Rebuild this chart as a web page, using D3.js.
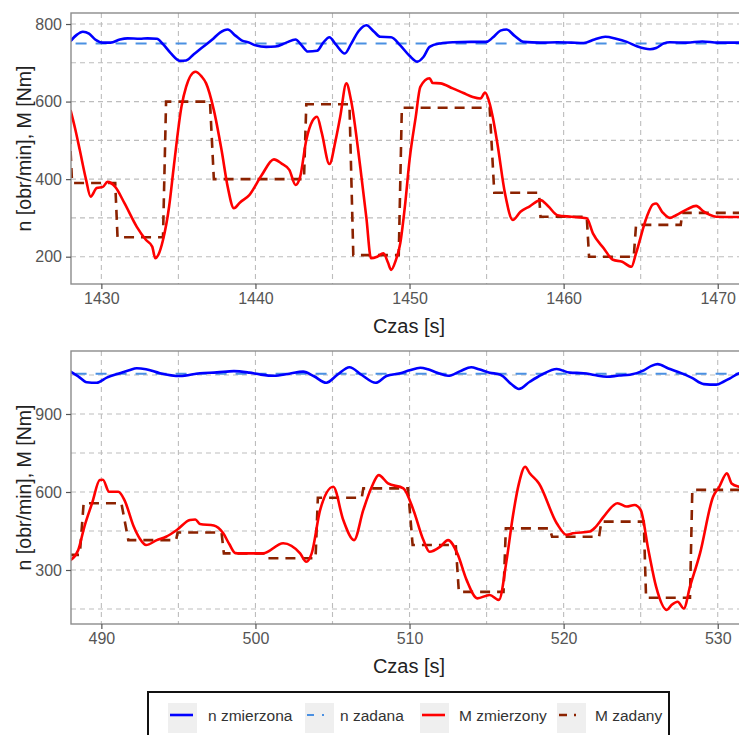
<!DOCTYPE html>
<html><head><meta charset="utf-8">
<script src="https://cdn.jsdelivr.net/npm/d3@7"></script>
<style>body{margin:0;background:#fff;} text{font-family:"Liberation Sans",Arial,sans-serif;}</style>
</head><body><svg id="c" width="739" height="735"></svg>
<script>
// ---------- DATA ----------
const seriesNames = ["n zmierzona", "n zadana", "M zmierzony", "M zadany"];
const xTitle = "Czas [s]";
const yTitle = "n [obr/min], M [Nm]";

const topXTicks = [1430, 1440, 1450, 1460, 1470];
const topYTicks = [200, 400, 600, 800];
const topNSet = 750;
const topNMeasured = [[1428.0,756],[1428.4,772],[1428.8,780],[1429.2,775],[1429.6,760],[1430.1,752],[1430.6,752],[1431.2,760],[1431.7,763],[1432.5,762],[1433.0,763],[1433.6,762],[1434.0,748],[1434.5,725],[1435.1,705],[1435.5,706],[1436.0,722],[1436.5,738],[1437.2,760],[1437.7,778],[1438.2,786],[1438.7,770],[1439.1,758],[1439.6,752],[1440.0,745],[1440.7,741],[1441.3,742],[1442.0,752],[1442.6,760],[1443.0,745],[1443.4,729],[1444.0,731],[1444.4,752],[1444.8,766],[1445.2,748],[1445.8,724],[1446.2,748],[1446.7,782],[1447.2,797],[1447.7,780],[1448.1,767],[1448.8,766],[1449.4,745],[1450.0,718],[1450.5,703],[1450.9,715],[1451.3,741],[1452.0,750],[1452.8,753],[1454.0,754],[1455.0,754],[1455.4,765],[1455.9,783],[1456.3,786],[1456.8,770],[1457.4,754],[1458.5,752],[1459.6,753],[1460.5,752],[1461.3,751],[1462.0,760],[1462.7,767],[1463.4,762],[1464.1,754],[1464.8,742],[1465.6,735],[1466.0,738],[1466.5,750],[1466.9,753],[1468.0,752],[1469.0,755],[1470.0,752],[1472.0,752]];
const topMMeasured = [[1428.0,578],[1428.3,530],[1428.6,475],[1429.0,400],[1429.3,355],[1429.7,377],[1430.1,380],[1430.4,393],[1430.9,380],[1431.5,338],[1432.3,277],[1432.9,243],[1433.3,226],[1433.5,196],[1433.7,205],[1434.0,243],[1434.4,330],[1434.7,432],[1435.2,587],[1435.5,638],[1436.1,677],[1436.5,665],[1436.8,647],[1437.3,578],[1437.8,475],[1438.2,380],[1438.6,325],[1439.0,340],[1439.6,359],[1440.4,410],[1441.2,451],[1441.7,440],[1442.2,424],[1442.6,385],[1442.9,406],[1443.3,501],[1443.7,550],[1444.0,561],[1444.3,520],[1444.8,439],[1445.2,500],[1445.5,561],[1445.9,647],[1446.2,604],[1446.8,432],[1447.2,300],[1447.5,196],[1447.9,200],[1448.3,209],[1448.6,185],[1448.8,166],[1449.1,190],[1449.4,235],[1449.7,330],[1450.0,449],[1450.4,560],[1450.7,638],[1451.3,660],[1451.5,648],[1452.0,647],[1452.8,634],[1453.5,622],[1454.1,612],[1454.6,608],[1454.9,623],[1455.2,595],[1455.4,560],[1455.7,492],[1456.2,362],[1456.7,295],[1457.2,316],[1457.8,330],[1458.5,346],[1459.0,330],[1459.6,307],[1460.5,303],[1461.5,299],[1461.9,260],[1462.6,222],[1463.2,192],[1463.8,187],[1464.4,174],[1464.7,209],[1465.4,303],[1465.8,335],[1466.0,337],[1466.4,315],[1466.9,300],[1467.3,307],[1468.0,322],[1468.6,331],[1469.1,316],[1469.9,303],[1472.0,302]];
const topMSet = [[1427.9,560],[1428.1,390],[1430.9,390],[1431.05,250],[1434.0,250],[1434.2,600],[1437.05,600],[1437.3,400],[1443.15,400],[1443.3,593],[1446.1,593],[1446.35,204],[1449.3,204],[1449.5,584],[1455.2,584],[1455.5,365],[1458.4,365],[1458.5,303],[1461.5,303],[1461.65,200],[1464.55,200],[1464.7,282],[1467.6,282],[1467.7,313],[1472.5,313]];

const botXTicks = [490, 500, 510, 520, 530];
const botYTicks = [300, 600, 900];
const botNSet = 1055;
const botNMeasured = [[488.0,1063],[488.5,1045],[489.05,1022],[489.7,1020],[490.35,1040],[491.2,1057],[491.8,1068],[492.3,1076],[492.9,1072],[493.8,1057],[495.1,1046],[496.4,1057],[497.5,1060],[498.6,1065],[499.6,1059],[500.3,1052],[501.2,1047],[502.2,1055],[503.1,1063],[503.8,1045],[504.6,1020],[505.3,1050],[506.1,1080],[506.9,1050],[507.8,1020],[508.5,1046],[509.4,1057],[510.0,1068],[510.7,1078],[511.2,1072],[511.8,1059],[512.5,1047],[513.3,1065],[514.0,1080],[514.5,1072],[515.2,1059],[515.9,1051],[516.1,1043],[516.6,1015],[517.1,996],[517.8,1024],[518.6,1052],[519.55,1073],[520.4,1059],[521.3,1057],[522.0,1050],[522.8,1043],[523.6,1048],[524.3,1051],[525.2,1068],[525.7,1085],[526.1,1092],[526.8,1075],[527.55,1059],[528.3,1040],[529.1,1015],[529.9,1013],[530.4,1025],[530.8,1037],[531.4,1057],[532.0,1062]];
const botMMeasured = [[488.0,338],[488.5,377],[488.9,467],[489.4,557],[489.9,646],[490.1,647],[490.5,601],[491.1,601],[491.5,569],[492.1,467],[492.5,420],[492.9,396],[493.6,415],[494.2,428],[494.9,454],[495.75,492],[496.1,494],[496.4,477],[497.3,471],[497.9,442],[498.3,400],[498.7,365],[499.0,364],[500.5,364],[501.8,403],[502.9,364],[503.3,332],[503.65,364],[504.2,531],[505.05,620],[505.7,492],[506.4,415],[507.0,531],[507.55,620],[508.0,665],[508.6,633],[509.6,614],[510.25,531],[510.9,415],[511.3,370],[512.0,390],[512.5,415],[513.1,364],[513.7,262],[514.4,191],[515.2,204],[515.8,185],[516.3,338],[516.7,505],[517.1,633],[517.5,697],[517.8,672],[518.4,633],[519.55,480],[520.2,435],[520.6,441],[521.7,448],[522.1,467],[522.6,505],[523.5,557],[524.1,544],[524.6,550],[525.0,531],[525.5,377],[526.0,236],[526.7,146],[527.0,165],[527.4,178],[527.8,152],[528.2,236],[528.85,364],[529.7,582],[530.1,620],[530.6,672],[530.9,633],[531.4,620],[532.0,615]];
const botMSet = [[487.9,358],[488.6,358],[488.85,557],[491.3,557],[491.75,415],[494.85,415],[494.95,444],[497.8,444],[497.95,364],[500.6,364],[500.75,345],[503.9,345],[504.05,578],[506.9,578],[507.0,614],[509.9,614],[510.2,396],[513.0,396],[513.2,216],[516.1,216],[516.25,460],[519.1,460],[519.25,428],[522.3,428],[522.45,486],[525.2,486],[525.35,193],[528.2,193],[528.35,608],[532.5,608]];

// ---------- LAYOUT / STYLE ----------
const svg = d3.select("#c");
const L = 71, R = 747;
const colN = "#0000ff", colNSet = "#4a90e2", colM = "#ff0000", colMSet = "#8b2200";

const panels = [
  {top:13, bottom:284, xd:[1428.03,1471.9], yd:[129.6,828.4], xt:topXTicks, yt:topYTicks,
   nm:topNMeasured, ns:topNSet, mm:topMMeasured, ms:topMSet, titleY:333},
  {top:351, bottom:624, xd:[488.03,531.9], yd:[92.3,1142.3], xt:botXTicks, yt:botYTicks,
   nm:botNMeasured, ns:botNSet, mm:botMMeasured, ms:botMSet, titleY:673}
];

panels.forEach((p,i)=>{
  const x = d3.scaleLinear().domain(p.xd).range([L,R]);
  const y = d3.scaleLinear().domain(p.yd).range([p.bottom,p.top]);
  const g = svg.append("g");
  const cid = "clip"+i;
  svg.append("clipPath").attr("id",cid).append("rect")
    .attr("x",L).attr("y",p.top).attr("width",R-L).attr("height",p.bottom-p.top);

  // grid (major + minor, all dashed)
  const xs = p.xt[1]-p.xt[0], ys = p.yt[1]-p.yt[0];
  const xg = d3.range(p.xt[0]-xs, p.xt[p.xt.length-1]+xs+0.01, xs/2).filter(v=>v>p.xd[0]&&v<p.xd[1]);
  const yg = d3.range(p.yt[0]-ys, p.yt[p.yt.length-1]+ys+0.01, ys/2).filter(v=>v>p.yd[0]&&v<p.yd[1]);
  const grid = g.append("g").attr("stroke","#bdbdbd").attr("stroke-width",1.1).attr("stroke-dasharray","5,4");
  grid.selectAll(".gx").data(xg).join("line")
    .attr("x1",d=>x(d)).attr("x2",d=>x(d)).attr("y1",p.top).attr("y2",p.bottom);
  grid.selectAll(".gy").data(yg).join("line")
    .attr("x1",L).attr("x2",R).attr("y1",d=>y(d)).attr("y2",d=>y(d));

  const data = g.append("g").attr("clip-path",`url(#${cid})`).attr("fill","none");
  const straight = d3.line().x(d=>x(d[0])).y(d=>y(d[1]));
  const smooth = d3.line().x(d=>x(d[0])).y(d=>y(d[1])).curve(d3.curveMonotoneX);
  data.append("path").datum([[p.xd[0]-1,p.ns],[p.xd[1]+1,p.ns]]).attr("d",straight)
    .attr("stroke",colNSet).attr("stroke-width",2).attr("stroke-dasharray","11,9");
  data.append("path").datum(p.nm).attr("d",smooth)
    .attr("stroke",colN).attr("stroke-width",2.6).attr("stroke-linejoin","round");
  data.append("path").datum(p.ms).attr("d",straight)
    .attr("stroke",colMSet).attr("stroke-width",2.6).attr("stroke-dasharray","10,7");
  data.append("path").datum(p.mm).attr("d",smooth)
    .attr("stroke",colM).attr("stroke-width",2.6).attr("stroke-linejoin","round");

  // border
  g.append("rect").attr("x",L).attr("y",p.top).attr("width",R-L).attr("height",p.bottom-p.top)
    .attr("fill","none").attr("stroke","#8c8c8c").attr("stroke-width",1.4);

  // axes
  const xa = g.append("g").attr("transform",`translate(0,${p.bottom})`)
    .call(d3.axisBottom(x).tickValues(p.xt).tickFormat(d3.format("d")).tickSize(5).tickPadding(4));
  const ya = g.append("g").attr("transform",`translate(${L},0)`)
    .call(d3.axisLeft(y).tickValues(p.yt).tickFormat(d3.format("d")).tickSize(5).tickPadding(4));
  [xa,ya].forEach(a=>{
    a.select(".domain").remove();
    a.selectAll(".tick line").attr("stroke","#555").attr("stroke-width",1.2);
    a.selectAll(".tick text").attr("fill","#555").style("font-size","16px")
      .style("font-family","'Liberation Sans',Arial,sans-serif");
  });

  g.append("text").attr("x",(L+R)/2).attr("y",p.titleY).attr("text-anchor","middle")
    .attr("fill","#222").style("font-size","20px").text(xTitle);
  g.append("text").attr("transform",`translate(31,${(p.top+p.bottom)/2}) rotate(-90)`)
    .attr("text-anchor","middle").attr("fill","#222").style("font-size","19.5px").text(yTitle);
});

// ---------- LEGEND ----------
const lg = svg.append("g");
lg.append("rect").attr("x",148).attr("y",692).attr("width",521).attr("height",60)
  .attr("fill","#fff").attr("stroke","#111").attr("stroke-width",2);
const keys = [
  {x:168, tx:208, col:colN, dash:null, w:2.6},
  {x:305, tx:340, col:colNSet, dash:"7,8,2,30", w:2},
  {x:420, tx:459, col:colM, dash:null, w:2.6},
  {x:557, tx:595, col:colMSet, dash:"8,7,2,30", w:2.6}
];
keys.forEach((k,i)=>{
  lg.append("rect").attr("x",k.x).attr("y",703).attr("width",29).attr("height",30).attr("fill","#efefef");
  const ln = lg.append("line").attr("x1",k.x+2).attr("x2",k.x+25).attr("y1",715).attr("y2",715)
    .attr("stroke",k.col).attr("stroke-width",k.w);
  if(k.dash) ln.attr("stroke-dasharray",k.dash);
  lg.append("text").attr("x",k.tx).attr("y",721).attr("fill","#333").style("font-size","15.5px").text(seriesNames[i]);
});
</script></body></html>
